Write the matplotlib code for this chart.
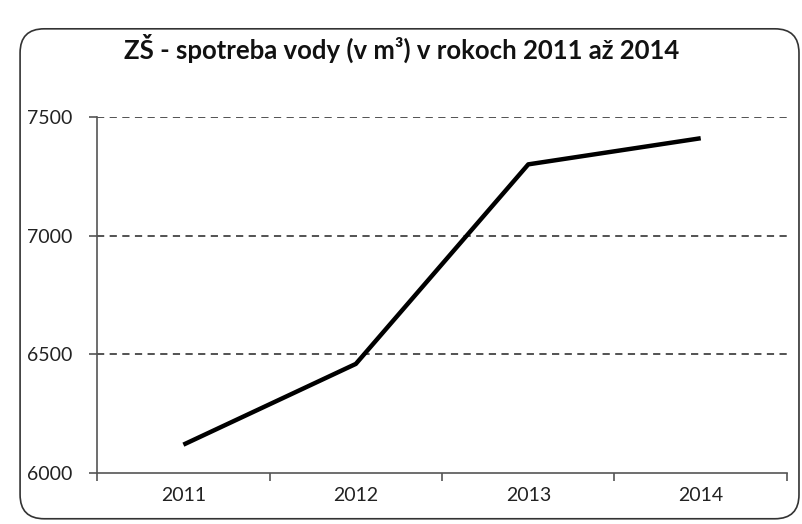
import matplotlib
matplotlib.use("Agg")
import matplotlib.pyplot as plt
from matplotlib.patches import FancyBboxPatch

years = ["2011", "2012", "2013", "2014"]
consumption = [6120, 6460, 7300, 7410]
yticks = [6000, 6500, 7000, 7500]
title = "ZŠ - spotreba vody (v m³) v rokoch 2011 až 2014"

plt.rcParams['font.family'] = ['Lato', 'DejaVu Sans']

fig = plt.figure(figsize=(8.03, 5.24), dpi=100)
fig.patch.set_facecolor("white")

box = FancyBboxPatch((0.025, 0.01), 0.97, 0.935, boxstyle="round,pad=0,rounding_size=0.03",
                     transform=fig.transFigure, facecolor="white", edgecolor="#333333",
                     linewidth=1.2, mutation_aspect=803/524, zorder=-10)
fig.patches.append(box)

ax = fig.add_axes([0.121, 0.097, 0.859, 0.68])
ax.set_facecolor("none")
x = list(range(len(years)))
ax.plot(x, consumption, color="black", linewidth=3.2, solid_capstyle="butt")

ax.set_xlim(-0.5, len(years) - 0.5)
ax.set_ylim(yticks[0], yticks[-1])
ax.set_yticks(yticks)
ax.set_yticklabels([str(v) for v in yticks])
ax.set_xticks(x)
ax.set_xticklabels(years)
ax.set_xticks([i - 0.5 for i in range(len(years) + 1)], minor=True)

for v in yticks[1:]:
    ax.axhline(v, color="#444444", linestyle=(0, (4, 3)), linewidth=1.3, zorder=0)

for s in ["top", "right"]:
    ax.spines[s].set_visible(False)
for s in ["left", "bottom"]:
    ax.spines[s].set_color("#555555")
    ax.spines[s].set_linewidth(1.2)

ax.tick_params(axis="y", direction="out", length=6, width=1.2, color="#555555",
               labelsize=14, pad=12, labelcolor="#222222")
ax.tick_params(axis="x", which="major", length=0, labelsize=14, pad=10, labelcolor="#222222")
ax.tick_params(axis="x", which="minor", direction="out", length=6, width=1.2, color="#555555")

fig.text(0.5, 0.907, title, ha="center", va="center", fontsize=18.5, fontweight="bold", color="#111111")

fig.savefig("out.png", dpi=100, facecolor="white")
